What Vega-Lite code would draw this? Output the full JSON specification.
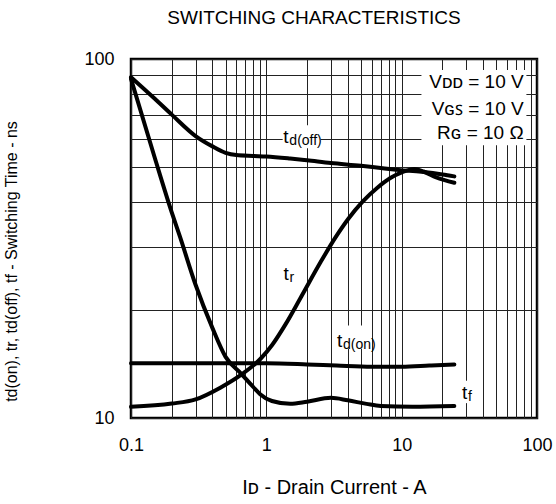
{
  "$schema": "https://vega.github.io/schema/vega-lite/v6.json",
  "width": 406,
  "height": 359,
  "autosize": {"type": "none"},
  "padding": {"left": 131, "top": 59, "right": 19, "bottom": 86},
  "config": {
    "font": "Liberation Sans",
    "view": {"stroke": "#000", "strokeWidth": 2.5},
    "axis": {
      "grid": true,
      "gridColor": "#222",
      "gridOpacity": 1,
      "gridWidth": 1,
      "ticks": false,
      "domain": false,
      "labelFont": "Liberation Sans",
      "labelColor": "#000",
      "labelFontSize": 18,
      "labelOverlap": false,
      "labelFlush": false,
      "titleFont": "Liberation Sans",
      "titleColor": "#000",
      "titleFontWeight": "normal"
    }
  },
  "title": {
    "text": "SWITCHING CHARACTERISTICS",
    "font": "Liberation Sans",
    "fontSize": 19,
    "fontWeight": "normal",
    "color": "#000",
    "dx": -20,
    "offset": 22
  },
  "datasets": {
    "curves": [
      {"series": "td(off)", "x": 0.1, "y": 89},
      {"series": "td(off)", "x": 0.15, "y": 77.5},
      {"series": "td(off)", "x": 0.2, "y": 70},
      {"series": "td(off)", "x": 0.3, "y": 61},
      {"series": "td(off)", "x": 0.4, "y": 57.1},
      {"series": "td(off)", "x": 0.5, "y": 54.8},
      {"series": "td(off)", "x": 0.6, "y": 54},
      {"series": "td(off)", "x": 0.8, "y": 53.7},
      {"series": "td(off)", "x": 1.0, "y": 53.5},
      {"series": "td(off)", "x": 1.5, "y": 52.8},
      {"series": "td(off)", "x": 2, "y": 52.2},
      {"series": "td(off)", "x": 3, "y": 51.3},
      {"series": "td(off)", "x": 5, "y": 50.4},
      {"series": "td(off)", "x": 7, "y": 49.7},
      {"series": "td(off)", "x": 9.5, "y": 49.1},
      {"series": "td(off)", "x": 14, "y": 48.5},
      {"series": "td(off)", "x": 20, "y": 47.7},
      {"series": "td(off)", "x": 24.5, "y": 47.1},
      {"series": "tf", "x": 0.1, "y": 88},
      {"series": "tf", "x": 0.15, "y": 53},
      {"series": "tf", "x": 0.2, "y": 37.4},
      {"series": "tf", "x": 0.23, "y": 32},
      {"series": "tf", "x": 0.3, "y": 23.5},
      {"series": "tf", "x": 0.4, "y": 17.8},
      {"series": "tf", "x": 0.5, "y": 14.8},
      {"series": "tf", "x": 0.65, "y": 13.3},
      {"series": "tf", "x": 0.8, "y": 12.2},
      {"series": "tf", "x": 0.9, "y": 11.65},
      {"series": "tf", "x": 1.1, "y": 11.15},
      {"series": "tf", "x": 1.5, "y": 10.95},
      {"series": "tf", "x": 2.0, "y": 11.1},
      {"series": "tf", "x": 3, "y": 11.38},
      {"series": "tf", "x": 4, "y": 11.2},
      {"series": "tf", "x": 5.5, "y": 10.95},
      {"series": "tf", "x": 7, "y": 10.8},
      {"series": "tf", "x": 12, "y": 10.75},
      {"series": "tf", "x": 24.5, "y": 10.8},
      {"series": "tr", "x": 0.1, "y": 10.74},
      {"series": "tr", "x": 0.2, "y": 10.97},
      {"series": "tr", "x": 0.3, "y": 11.27},
      {"series": "tr", "x": 0.457, "y": 12.15},
      {"series": "tr", "x": 0.661, "y": 13.25},
      {"series": "tr", "x": 0.903, "y": 14.6},
      {"series": "tr", "x": 1.107, "y": 16.0},
      {"series": "tr", "x": 1.382, "y": 18.2},
      {"series": "tr", "x": 1.784, "y": 21.55},
      {"series": "tr", "x": 2.506, "y": 27.1},
      {"series": "tr", "x": 3.235, "y": 31.8},
      {"series": "tr", "x": 4.038, "y": 35.9},
      {"series": "tr", "x": 5.124, "y": 40.0},
      {"series": "tr", "x": 6.613, "y": 43.8},
      {"series": "tr", "x": 8.25, "y": 46.6},
      {"series": "tr", "x": 10.12, "y": 48.4},
      {"series": "tr", "x": 12.4, "y": 49.4},
      {"series": "tr", "x": 14.5, "y": 48.6},
      {"series": "tr", "x": 18, "y": 46.8},
      {"series": "tr", "x": 24.5, "y": 45.2},
      {"series": "td(on)", "x": 0.1, "y": 14.2},
      {"series": "td(on)", "x": 0.5, "y": 14.2},
      {"series": "td(on)", "x": 1, "y": 14.2},
      {"series": "td(on)", "x": 2, "y": 14.1},
      {"series": "td(on)", "x": 3.3, "y": 14.0},
      {"series": "td(on)", "x": 6, "y": 13.9},
      {"series": "td(on)", "x": 10, "y": 13.9},
      {"series": "td(on)", "x": 16, "y": 14.0},
      {"series": "td(on)", "x": 24.5, "y": 14.1}
    ],
    "boxes": [
      {"x": 14, "x2": 83.5, "y": 57.5, "y2": 93.2},
      {"x": 1.32, "x2": 2.52, "y": 56.4, "y2": 65.4},
      {"x": 3.25, "x2": 5.9, "y": 15.6, "y2": 18.1},
      {"x": 27.2, "x2": 35.6, "y": 11.0, "y2": 12.7}
    ],
    "curveLabels": [
      {"x": 1.336, "y": 58.3, "main": "t", "sub": "d(off)"},
      {"x": 3.33, "y": 15.72, "main": "t", "sub": "d(on)"},
      {"x": 1.342, "y": 24.25, "main": "t", "sub": "r"},
      {"x": 27.95, "y": 11.28, "main": "t", "sub": "f"}
    ],
    "conditions": [
      {"x": 79.7, "y": 82.8, "label": "Vᴅᴅ = 10 V"},
      {"x": 79.7, "y": 70.0, "label": "Vɢꜱ = 10 V"},
      {"x": 79.7, "y": 60.0, "label": "Rɢ = 10 Ω"}
    ]
  },
  "encoding": {
    "x": {
      "field": "x",
      "type": "quantitative",
      "scale": {"type": "log", "domain": [0.1, 100], "nice": false},
      "axis": {
        "values": [0.1, 0.2, 0.3, 0.4, 0.5, 0.6, 0.7, 0.8, 0.9, 1, 2, 3, 4, 5, 6, 7, 8, 9, 10, 20, 30, 40, 50, 60, 70, 80, 90, 100],
        "format": "~g",
        "labelExpr": "datum.value === 0.1 || datum.value === 1 || datum.value === 10 || datum.value === 100 ? datum.label : ''",
        "labelPadding": 18,
        "title": "Iᴅ - Drain Current - A",
        "titleFontSize": 20,
        "titlePadding": 23
      }
    },
    "y": {
      "field": "y",
      "type": "quantitative",
      "scale": {"type": "log", "domain": [10, 100], "nice": false},
      "axis": {
        "values": [10, 20, 30, 40, 50, 60, 70, 80, 90, 100],
        "format": "~g",
        "labelExpr": "datum.value === 10 || datum.value === 100 ? datum.label : ''",
        "labelPadding": 17,
        "title": "td(on), tr, td(off), tf - Switching Time - ns",
        "titleFontSize": 16,
        "titleX": -112,
        "titleY": 202
      }
    }
  },
  "layer": [
    {
      "data": {"name": "boxes"},
      "mark": {"type": "rect", "fill": "#fff", "stroke": null},
      "encoding": {"x2": {"field": "x2"}, "y2": {"field": "y2"}}
    },
    {
      "data": {"name": "curves"},
      "mark": {"type": "line", "color": "#000", "strokeWidth": 4, "interpolate": "monotone", "strokeCap": "round"},
      "encoding": {"detail": {"field": "series"}}
    },
    {
      "data": {"name": "curveLabels"},
      "mark": {"type": "text", "align": "left", "baseline": "alphabetic", "fontSize": 19, "font": "Liberation Sans", "color": "#000"},
      "encoding": {"text": {"field": "main"}}
    },
    {
      "data": {"name": "curveLabels"},
      "mark": {"type": "text", "align": "left", "baseline": "alphabetic", "fontSize": 14, "font": "Liberation Sans", "color": "#000", "dx": 6, "dy": 2},
      "encoding": {"text": {"field": "sub"}}
    },
    {
      "data": {"name": "conditions"},
      "mark": {"type": "text", "align": "right", "baseline": "alphabetic", "fontSize": 19, "font": "Liberation Sans", "color": "#000"},
      "encoding": {"text": {"field": "label"}}
    }
  ]
}
